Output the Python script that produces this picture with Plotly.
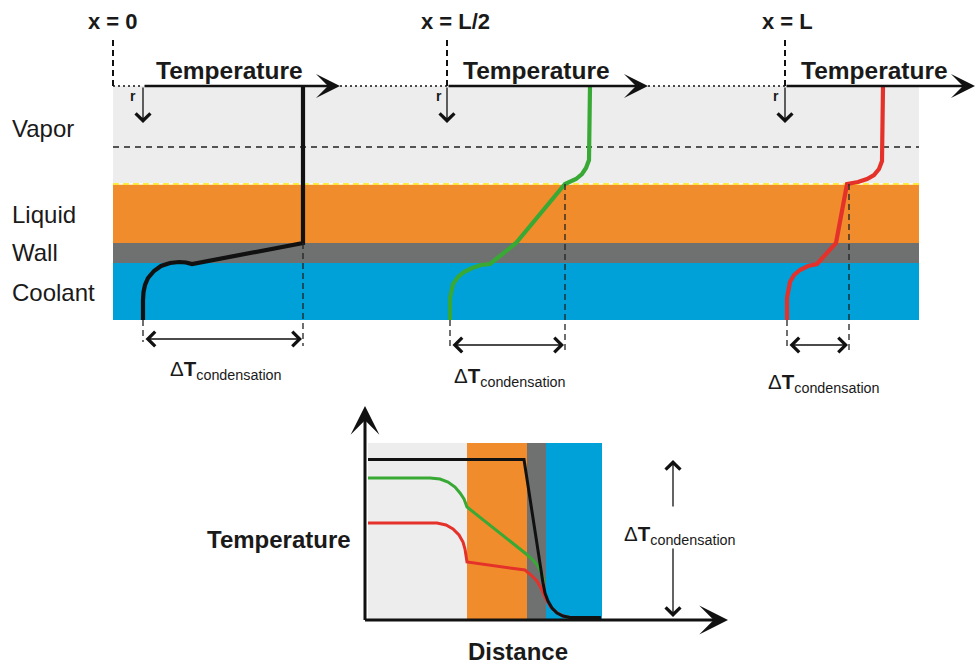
import plotly.graph_objects as go

W, H = 976, 664
FONT = "Liberation Sans"

# ---------------- colours ----------------
C_VAPOR = "#EEEDED"
C_LIQUID = "#F18C2C"
C_WALL = "#6F7170"
C_COOL = "#00A0D8"
C_YEL = "#FFE900"
C_BLACK = "#111111"
C_GREEN = "#38A935"
C_RED = "#E4312A"

# ---------------- top schematic: layer boundaries (r direction, px) ----------------
band_x = [113, 919]
layer_names = ["Vapor", "Liquid", "Wall", "Coolant"]
layer_label_y = [128, 214, 252, 292]
layer_edges = [86, 184, 243, 263, 320]          # vapor top, liquid top, wall top, coolant top, coolant bottom
layer_colors = [C_VAPOR, C_LIQUID, C_WALL, C_COOL]
vapor_dash_y = 147

# axial positions
pos_labels = ["x = 0", "x = L/2", "x = L"]
pos_label_x = [113, 455, 787]
origin_x = [113, 447, 785]
axis_start_x = [143, 447, 785]
axis_end_x = [340, 648, 975]
temp_label_x = [229, 536, 874]
r_label_x = [133, 439, 776]

# temperature profiles T(r) at the three positions
black_T = [303, 303, 192, 186, 179, 170, 161, 154, 148, 145, 143.5, 143, 143]
black_r = [86, 243, 264, 262.5, 262, 263, 266, 271, 278, 285, 292, 300, 320]
green_T = [590, 590, 589, 586, 582, 576, 570, 565, 516, 490, 481, 472, 464, 458, 453, 451, 450, 450]
green_r = [86, 148, 160, 168, 174, 179, 182, 184, 243, 264, 265, 268, 272, 277, 284, 291, 298, 320]
red_T = [883, 883, 882, 879, 874, 867, 858, 847, 836, 817, 808, 800, 794, 790, 788, 787, 787]
red_r = [86, 148, 161, 169, 175, 179, 182, 184, 243, 264, 266, 270, 275, 282, 290, 298, 320]

# delta-T brackets
dT_left = [143, 450, 787]
dT_right = [303, 565, 849]
dT_arrow_y = [339, 345, 345]
dT_dash_bottom = [346, 352, 352]
dT_label_x = [226, 510, 824]
dT_label_y = [370, 377, 383]

# ---------------- bottom chart ----------------
b_origin = (365, 620)
b_ytip = 406
b_xtip = 728
b_bands_x = [368, 467, 527, 546, 602]
b_band_top = 443
b_colors = [C_VAPOR, C_LIQUID, C_WALL, C_COOL]

b_black_x = [368, 524, 543, 545, 548, 552, 557, 563, 570, 601]
b_black_y = [459.5, 459.5, 583, 593, 601, 608, 613, 616, 617.5, 617.5]
b_green_x = [368, 430, 440, 448, 455, 460, 464, 465.5, 467, 525, 532, 538, 542, 544]
b_green_y = [478, 478, 479, 482, 487, 493, 499, 503, 507, 553, 559, 566, 574, 582]
b_red_x = [368, 437, 446, 453, 459, 463, 465, 466, 467, 525, 531, 537, 541, 545, 550, 556, 563, 570]
b_red_y = [523, 523, 525, 529, 535, 542, 549, 556, 562, 570, 575, 581, 588, 597, 606, 612, 616, 617.5]

fig = go.Figure()
shapes = []
ann = []

# layer bands
for i, col in enumerate(layer_colors):
    shapes.append(dict(type="rect", x0=band_x[0], x1=band_x[1], y0=layer_edges[i], y1=layer_edges[i + 1],
                       fillcolor=col, line_width=0, layer="below"))
# dashed line in vapor
shapes.append(dict(type="line", x0=band_x[0], x1=band_x[1], y0=vapor_dash_y, y1=vapor_dash_y,
                   line=dict(color="#222222", width=1.5, dash="6px,5px"), layer="below"))
# yellow interface line
shapes.append(dict(type="line", x0=band_x[0], x1=band_x[1], y0=layer_edges[1], y1=layer_edges[1],
                   line=dict(color="white", width=1.5), layer="below"))
shapes.append(dict(type="line", x0=band_x[0], x1=band_x[1], y0=layer_edges[1], y1=layer_edges[1],
                   line=dict(color=C_YEL, width=1.5, dash="6px,4px"), layer="below"))

# origin dashed verticals, dotted connectors
for i in range(3):
    shapes.append(dict(type="line", x0=origin_x[i], x1=origin_x[i], y0=40, y1=layer_edges[0],
                       line=dict(color="#111", width=2, dash="6px,4px")))
dotted = [(origin_x[0], axis_start_x[0]), (axis_end_x[0], origin_x[1]), (axis_end_x[1], origin_x[2])]
for a, b in dotted:
    shapes.append(dict(type="line", x0=a, x1=b, y0=layer_edges[0], y1=layer_edges[0],
                       line=dict(color="#111", width=1.5, dash="2px,3px")))

# delta-T dashed verticals
for i in range(3):
    top_r = layer_edges[2] if i == 0 else layer_edges[1]
    shapes.append(dict(type="line", x0=dT_right[i], x1=dT_right[i], y0=top_r, y1=dT_dash_bottom[i],
                       line=dict(color="#222", width=1.3, dash="6px,4px")))
    shapes.append(dict(type="line", x0=dT_left[i], x1=dT_left[i], y0=layer_edges[4], y1=dT_dash_bottom[i] - 4,
                       line=dict(color="#222", width=1.3, dash="6px,4px")))

# bottom chart bands
for i, col in enumerate(b_colors):
    shapes.append(dict(type="rect", x0=b_bands_x[i], x1=b_bands_x[i + 1], y0=b_band_top, y1=b_origin[1],
                       fillcolor=col, line_width=0, layer="below"))

# profile traces (top)
for T, r, col in [(black_T, black_r, C_BLACK), (green_T, green_r, C_GREEN), (red_T, red_r, C_RED)]:
    fig.add_trace(go.Scatter(x=T, y=r, mode="lines", line=dict(color=col, width=4.2),
                             hoverinfo="skip", showlegend=False))
# profile traces (bottom)
for xx, yy, col in [(b_red_x, b_red_y, C_RED), (b_green_x, b_green_y, C_GREEN), (b_black_x, b_black_y, C_BLACK)]:
    fig.add_trace(go.Scatter(x=xx, y=yy, mode="lines", line=dict(color=col, width=3),
                             hoverinfo="skip", showlegend=False))

# arrows (annotations)
def arrow(x0, y0, x1, y1, width=2.5, head=3, size=1.1, side="end"):
    ann.append(dict(x=x1, y=y1, ax=x0, ay=y0, xref="x", yref="y", axref="x", ayref="y",
                    showarrow=True, arrowhead=head, arrowsize=size, arrowwidth=width,
                    arrowcolor="#111", arrowside=side, text="", standoff=0, startstandoff=0,
                    startarrowhead=head, startarrowsize=size))

for i in range(3):
    arrow(axis_start_x[i], layer_edges[0], axis_end_x[i], layer_edges[0], width=2.5, head=3, size=1.6)
    arrow(axis_start_x[i], layer_edges[0], axis_start_x[i], 123, width=1.3, head=4, size=2.2)
    arrow(dT_left[i] + 1, dT_arrow_y[i], dT_right[i] - 1, dT_arrow_y[i], width=1.3, head=4, size=2.2,
          side="end+start")

# bottom axes
arrow(b_origin[0], b_origin[1] + 1.5, b_origin[0], b_ytip, width=3, head=3, size=1.6)
arrow(b_origin[0] - 1.5, b_origin[1], b_xtip, b_origin[1], width=3, head=3, size=1.6)
# right delta-T vertical
arrow(673, 508, 673, 460, width=1.3, head=4, size=2.2)
arrow(673, 547, 673, 617, width=1.3, head=4, size=2.2)

# texts
def text(x, y, s, size, bold=False, anchor="center"):
    ann.append(dict(x=x, y=y, xref="x", yref="y", text=f"<b>{s}</b>" if bold else s, showarrow=False,
                    xanchor=anchor, yanchor="middle", font=dict(family=FONT, size=size, color="#1a1a1a")))

DT = "Δ<b>T</b><sub>condensation</sub>"
for i in range(3):
    text(pos_label_x[i], 21, pos_labels[i], 22, bold=True)
    text(temp_label_x[i], 70, "Temperature", 24.5, bold=True)
    text(r_label_x[i], 96, "r", 14, bold=True)
    text(dT_label_x[i], dT_label_y[i], DT, 20.5)
for name, y in zip(layer_names, layer_label_y):
    text(10, y, name, 24, anchor="left")

text(279, 539, "Temperature", 24, bold=True)
text(518, 651, "Distance", 24, bold=True)
text(680, 535, DT, 20.5)

fig.update_layout(
    width=W, height=H, autosize=False,
    margin=dict(l=0, r=0, t=0, b=0),
    paper_bgcolor="white", plot_bgcolor="white",
    xaxis=dict(range=[0, W], visible=False, fixedrange=True),
    yaxis=dict(range=[H, 0], visible=False, fixedrange=True),
    shapes=shapes, annotations=ann,
)
fig.write_html("out.html")
